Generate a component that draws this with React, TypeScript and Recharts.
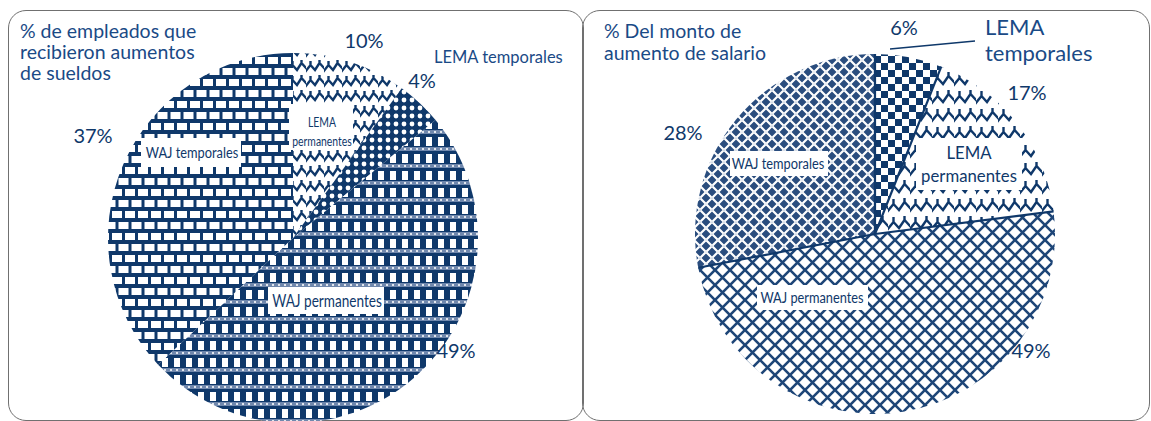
import { Pie, PieChart, Cell } from "recharts";

// valores
const leftCategories = ["LEMA permanentes", "LEMA temporales", "WAJ permanentes", "WAJ temporales"];
const leftValues = [10, 4, 49, 37];
const rightCategories = ["LEMA temporales", "LEMA permanentes", "WAJ permanentes", "WAJ temporales"];
const rightValues = [6, 17, 49, 28];

const leftTitle = ["% de empleados que", "recibieron aumentos", "de sueldos"];
const rightTitle = ["% Del monto de", "aumento de salario"];

const leftPatterns = ["zigS", "dots", "blocks", "bricks"];
const rightPatterns = ["checker", "zigL", "cross", "weave"];

const NAVY = "#0f386a";
const TEXT = "#1a4a86";
const FONT = "Lato, 'Open Sans', sans-serif";
const RADIAN = Math.PI / 180;

const leftData = leftCategories.map((name, i) => ({ name, value: leftValues[i] }));
const rightData = rightCategories.map((name, i) => ({ name, value: rightValues[i] }));

// posiciones de las etiquetas (coordenadas dentro de cada gráfico)
const leftLayout = [
  { pct: [364, 48], inner: { x: 322, y: 122, gap: 19, size: 13, sx: 0.8, box: [289, 104, 64, 46] } },
  { pct: [422, 88], outer: { x: 434, y: 63, size: 16.5 } },
  { pct: [456, 358], inner: { x: 327, y: 300, gap: 0, size: 17, sx: 0.8, box: [268, 287, 116, 27] } },
  { pct: [93, 143], inner: { x: 192, y: 152, gap: 0, size: 16, sx: 0.8, box: [141, 138, 100, 29] } },
];
const rightLayout = [
  { pct: [324, 35], outer: { x: 405, y: 35, size: 22, gap: 26 }, leader: [310, 49, 395, 41] },
  { pct: [447, 100], inner: { x: 389, y: 152, gap: 23, size: 18, sx: 0.93, box: [336, 138, 106, 52] } },
  { pct: [451, 358], inner: { x: 232, y: 297, gap: 0, size: 16, sx: 0.8, box: [177, 285, 111, 25] } },
  { pct: [103, 140], inner: { x: 198, y: 163, gap: 0, size: 16, sx: 0.8, box: [150, 151, 98, 25] } },
];

const splitName = (name: string, twoLines: boolean) => {
  if (!twoLines) return [name];
  const i = name.indexOf(" ");
  return [name.slice(0, i), name.slice(i + 1)];
};

const makeLabel = (layout: any[], twoLineInner: boolean[], divider: boolean) => (props: any) => {
  const { index, value, name, cx, cy, startAngle, outerRadius } = props;
  const l = layout[index];
  const parts: any[] = [];
  if (divider) {
    // línea radial al inicio de cada sector (sin contorno exterior)
    const ex = cx + outerRadius * Math.cos(-startAngle * RADIAN);
    const ey = cy + outerRadius * Math.sin(-startAngle * RADIAN);
    parts.push(<line key="d" x1={cx} y1={cy} x2={ex} y2={ey} stroke={NAVY} strokeWidth={2.2} />);
  }
  parts.push(
    <text key="p" x={l.pct[0]} y={l.pct[1]} textAnchor="middle" fontSize={20} fill={NAVY} fontFamily={FONT}>
      {value}%
    </text>
  );
  if (l.inner) {
    const lines = splitName(name, twoLineInner[index]);
    const b = l.inner.box;
    parts.push(<rect key="b" x={b[0]} y={b[1]} width={b[2]} height={b[3]} fill="#fff" />);
    lines.forEach((t, k) => {
      const y = l.inner.y + k * l.inner.gap;
      parts.push(
        <text
          key={"i" + k}
          transform={`translate(${l.inner.x},${y}) scale(${l.inner.sx},1)`}
          textAnchor="middle"
          dominantBaseline="central"
          fontSize={l.inner.size}
          fill={NAVY}
          fontFamily={FONT}
        >
          {t}
        </text>
      );
    });
  }
  if (l.outer) {
    const lines = l.outer.gap ? splitName(name, true) : [name];
    lines.forEach((t, k) =>
      parts.push(
        <text key={"o" + k} x={l.outer.x} y={l.outer.y + k * (l.outer.gap || 0)} fontSize={l.outer.size} fill={TEXT} fontFamily={FONT}>
          {t}
        </text>
      )
    );
  }
  if (l.leader) {
    const [x1, y1, x2, y2] = l.leader;
    parts.push(<line key="l" x1={x1} y1={y1} x2={x2} y2={y2} stroke={NAVY} strokeWidth={1.5} />);
  }
  return <g>{parts}</g>;
};

const Patterns = () => (
  <defs>
    <pattern id="bricks" patternUnits="userSpaceOnUse" width={13} height={22}>
      <rect width={13} height={22} fill={NAVY} />
      <rect x={1.5} y={2} width={10} height={7} fill="#fff" />
      <rect x={-5} y={13} width={10} height={7} fill="#fff" />
      <rect x={8} y={13} width={10} height={7} fill="#fff" />
    </pattern>
    <pattern id="zigS" patternUnits="userSpaceOnUse" width={18} height={15}>
      <rect width={18} height={15} fill="#fff" />
      <path d="M-1,12 L4.5,5 L9,10 L13.5,3 L19,9 M4.5,5 L4.5,1 M13.5,3 L13.5,-1" fill="none" stroke={NAVY} strokeWidth={2.4} />
    </pattern>
    <pattern id="zigL" patternUnits="userSpaceOnUse" width={22} height={18}>
      <rect width={22} height={18} fill="#fff" />
      <path d="M-1,14 L5.5,6 L11,12 L16.5,4 L23,11 M5.5,6 L5.5,1 M16.5,4 L16.5,-1" fill="none" stroke={NAVY} strokeWidth={2.4} />
    </pattern>
    <pattern id="dots" patternUnits="userSpaceOnUse" width={8} height={8}>
      <rect width={8} height={8} fill={NAVY} />
      <circle cx={4} cy={4} r={2.4} fill="#fff" />
    </pattern>
    <pattern id="blocks" patternUnits="userSpaceOnUse" width={12} height={17}>
      <rect width={12} height={17} fill={NAVY} />
      <rect x={6} y={1} width={6} height={9} fill="#fff" />
      <rect x={0} y={11} width={12} height={4} fill="#7088ad" />
      <circle cx={3} cy={13} r={1.1} fill="#fff" />
      <circle cx={9} cy={13} r={1.1} fill="#fff" />
    </pattern>
    <pattern id="checker" patternUnits="userSpaceOnUse" width={14} height={14}>
      <rect width={14} height={14} fill="#fff" />
      <rect x={0} y={0} width={7} height={7} fill={NAVY} />
      <rect x={7} y={7} width={7} height={7} fill={NAVY} />
    </pattern>
    <pattern id="cross" patternUnits="userSpaceOnUse" width={15} height={15}>
      <rect width={15} height={15} fill="#fff" />
      <path d="M-1,-1 L16,16 M16,-1 L-1,16" stroke="#1d4577" strokeWidth={2.6} />
    </pattern>
    <pattern id="weave" patternUnits="userSpaceOnUse" width={12} height={12}>
      <rect width={12} height={12} fill="#2a4d7e" />
      <path d="M1,5 L5,1 M7,1 L11,5 M1,7 L5,11 M7,11 L11,7" stroke="#fff" strokeWidth={2.2} strokeLinecap="square" />
    </pattern>
  </defs>
);

const boxStyle = (left: number, width: number): any => ({
  position: "absolute",
  left,
  top: 10,
  width,
  height: 411,
  border: "1.5px solid #707070",
  borderRadius: 18,
  boxSizing: "border-box",
});

const titleStyle = (left: number, size: number, lh: number): any => ({
  position: "absolute",
  left,
  top: 20,
  fontFamily: FONT,
  fontSize: size,
  lineHeight: `${lh}px`,
  color: TEXT,
});

export default function App() {
  return (
    <div style={{ position: "absolute", left: 0, top: 0, width: 1151, height: 421, overflow: "hidden", background: "#fff" }}>
      <div style={boxStyle(8, 576)} />
      <div style={boxStyle(582, 568)} />
      <div style={titleStyle(20, 19.5, 21)}>
        {leftTitle.map((t) => (
          <div key={t}>{t}</div>
        ))}
      </div>
      <div style={titleStyle(604, 19.5, 22)}>
        {rightTitle.map((t) => (
          <div key={t}>{t}</div>
        ))}
      </div>
      <div style={{ position: "absolute", left: 0, top: 0 }}>
        <PieChart width={580} height={421} style={{ overflow: "visible" }}>
          <Patterns />
          <Pie
            data={leftData}
            dataKey="value"
            nameKey="name"
            cx={288}
            cy={233}
            outerRadius={185}
            startAngle={90}
            endAngle={-270}
            stroke="none"
            labelLine={false}
            label={makeLabel(leftLayout, [true, false, false, false], false)}
            isAnimationActive={false}
          >
            {leftData.map((d, i) => (
              <Cell key={d.name} fill={`url(#${leftPatterns[i]})`} />
            ))}
          </Pie>
        </PieChart>
      </div>
      <div style={{ position: "absolute", left: 580, top: 0 }}>
        <PieChart width={571} height={421}>
          <Pie
            data={rightData}
            dataKey="value"
            nameKey="name"
            cx={290}
            cy={229}
            outerRadius={180}
            startAngle={90}
            endAngle={-270}
            stroke="none"
            labelLine={false}
            label={makeLabel(rightLayout, [false, true, false, false], true)}
            isAnimationActive={false}
          >
            {rightData.map((d, i) => (
              <Cell key={d.name} fill={`url(#${rightPatterns[i]})`} />
            ))}
          </Pie>
        </PieChart>
      </div>
    </div>
  );
}
